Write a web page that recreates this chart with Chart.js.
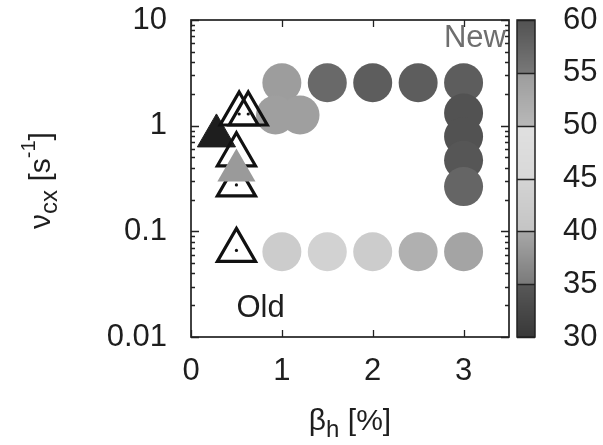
<!DOCTYPE html>
<html>
<head>
<meta charset="utf-8">
<script src="https://cdn.jsdelivr.net/npm/chart.js@4.4.0/dist/chart.umd.min.js"></script>
<style>
  html, body { margin: 0; padding: 0; background: #fff; }
  #wrap { position: relative; width: 603px; height: 445px; }
</style>
</head>
<body>
<div id="wrap"><canvas id="chart" width="603" height="445"></canvas></div>
<script>
// data: "New" discharges (circles), value on the colour bar in newZ
var newX = [1.0, 1.5, 2.0, 2.5, 3.0, 0.93, 1.2, 3.0, 3.0, 3.0, 3.0, 1.0, 1.5, 2.0, 2.5, 3.0];
var newY = [2.55, 2.55, 2.55, 2.55, 2.55, 1.26, 1.26, 1.32, 0.79, 0.47, 0.265, 0.064, 0.064, 0.064, 0.064, 0.064];
var newZ = [54.8, 57, 58.5, 58.5, 58.5, 54.5, 54.5, 60, 60, 59.5, 57.5, 42.5, 44.5, 42.5, 51.5, 53.5];

// "Old" discharges (open triangles)
var oldX = [0.53, 0.63, 0.5, 0.5, 0.5];
var oldY = [1.29, 1.29, 0.53, 0.275, 0.066];

// filled triangles
var darkTriX = [0.28];
var darkTriY = [0.80];
var greyTriX = [0.5];
var greyTriY = [0.376];

// ticks
var xTicks = [0, 1, 2, 3];
var yTicks = [0.01, 0.1, 1, 10];
var barTicks = [30, 35, 40, 45, 50, 55, 60];

// colour bar bands: [from, to, grey at from, grey at to]
var barBands = [
    [30, 35, 0x38, 0x58],
    [35, 40, 0x7a, 0xa8],
    [40, 45, 0xc4, 0xd4],
    [45, 50, 0xd8, 0xe0],
    [50, 55, 0xb8, 0x9c],
    [55, 60, 0x78, 0x52]
];

var FONT = "'Liberation Sans', Arial, Helvetica, sans-serif";

// helpers
function cmap(v) {
    for (var i = 0; i < barBands.length; i++) {
        var b = barBands[i];
        if (v >= b[0] && v <= b[1]) {
            var g = Math.round(b[2] + (b[3] - b[2]) * (v - b[0]) / (b[1] - b[0]));
            return 'rgb(' + g + ',' + g + ',' + g + ')';
        }
    }
    return '#000';
}

function points(xs, ys) {
    return xs.map(function (x, i) {
        return { x: x, y: ys[i] };
    });
}

function drawRich(ctx, parts, x, y) {
    var total = 0;
    parts.forEach(function (p) {
        ctx.font = p.size + 'px ' + FONT;
        p.w = ctx.measureText(p.t).width;
        total += p.w;
    });
    var cx = x - total / 2;
    parts.forEach(function (p) {
        ctx.font = p.size + 'px ' + FONT;
        ctx.fillText(p.t, cx, y + p.dy);
        cx += p.w;
    });
}

// label overhang must not push the plot area around
function fixSize(size) {
    return function (scale) {
        if (scale.isHorizontal()) {
            scale.height = size;
        } else {
            scale.width = size;
        }
        scale.paddingTop = 0;
        scale.paddingBottom = 0;
        scale.paddingLeft = 0;
        scale.paddingRight = 0;
    };
}

// frame, inward ticks, colour bar and labels
var decorPlugin = {
    id: 'decor',
    afterDraw: function (chart) {
        var ctx = chart.ctx, a = chart.chartArea;
        var sx = chart.scales.x, sy = chart.scales.y, cb = chart.scales.cb;

        ctx.save();
        ctx.strokeStyle = '#222';
        ctx.lineWidth = 1.3;
        ctx.beginPath();
        sx.ticks.forEach(function (t) {
            var px = Math.round(sx.getPixelForValue(t.value)) + 0.5;
            ctx.moveTo(px, a.bottom);
            ctx.lineTo(px, a.bottom - 7);
            ctx.moveTo(px, a.top);
            ctx.lineTo(px, a.top + 7);
        });
        sy.ticks.forEach(function (t) {
            var py = Math.round(sy.getPixelForValue(t.value)) + 0.5;
            var len = t.major ? 8 : 4;
            ctx.moveTo(a.left, py);
            ctx.lineTo(a.left + len, py);
            ctx.moveTo(a.right, py);
            ctx.lineTo(a.right - len, py);
        });
        ctx.stroke();

        ctx.lineWidth = 1.7;
        ctx.strokeRect(a.left, a.top, a.right - a.left, a.bottom - a.top);

        // colour bar
        var x0 = cb.left + 8, w = 18;
        var top = Math.round(cb.getPixelForValue(60)), bot = Math.round(cb.getPixelForValue(30));
        for (var py = top; py < bot; py++) {
            ctx.fillStyle = cmap(cb.getValueForPixel(py + 0.5));
            ctx.fillRect(x0, py, w, 1);
        }
        ctx.lineWidth = 1.5;
        ctx.beginPath();
        barTicks.forEach(function (v) {
            var p = Math.round(cb.getPixelForValue(v)) + 0.5;
            ctx.moveTo(x0, p);
            ctx.lineTo(x0 + w, p);
        });
        ctx.stroke();
        ctx.strokeRect(x0, top, w, bot - top);

        // annotations
        ctx.fillStyle = '#1e1e1e';
        ctx.textBaseline = 'alphabetic';
        ctx.textAlign = 'left';
        ctx.font = '31px ' + FONT;
        ctx.fillText('Old', sx.getPixelForValue(0.5), a.bottom - 20);
        ctx.fillStyle = '#6e6e6e';
        ctx.textAlign = 'right';
        ctx.fillText('New', a.right - 3, a.top + 27);

        // axis titles
        ctx.fillStyle = '#1e1e1e';
        ctx.textAlign = 'left';
        drawRich(ctx, [
            { t: '\u03b2', size: 30, dy: 0 },
            { t: 'h', size: 24, dy: 7 },
            { t: ' [%]', size: 30, dy: 0 }
        ], (a.left + a.right) / 2, 430);

        ctx.translate(50, (a.top + a.bottom) / 2 + 2);
        ctx.rotate(-Math.PI / 2);
        drawRich(ctx, [
            { t: '\u03bd', size: 30, dy: 0 },
            { t: 'cx', size: 24, dy: 7 },
            { t: ' [s', size: 30, dy: 0 },
            { t: '-1', size: 20, dy: -15 },
            { t: ']', size: 30, dy: 0 }
        ], 0, 0);
        ctx.restore();
    }
};

Chart.defaults.font.family = FONT;
Chart.defaults.font.size = 31;
Chart.defaults.color = '#1e1e1e';

var chart = new Chart(document.getElementById('chart'), {
    type: 'scatter',
    data: {
        datasets: [
            {
                data: points(newX, newY),
                pointRadius: 19.5,
                pointBorderWidth: 0,
                pointBackgroundColor: newZ.map(cmap),
                pointBorderColor: 'rgba(0,0,0,0)',
                xAxisID: 'x', yAxisID: 'y',
                order: 5
            },
            {
                data: points(darkTriX, darkTriY),
                pointStyle: 'triangle',
                pointRadius: 22,
                pointBorderWidth: 1,
                pointBackgroundColor: '#1e1e1e',
                pointBorderColor: '#1e1e1e',
                xAxisID: 'x', yAxisID: 'y',
                order: 4
            },
            {
                data: points(oldX, oldY),
                pointStyle: 'triangle',
                pointRadius: 22,
                pointBorderWidth: 3.2,
                pointBackgroundColor: 'rgba(0,0,0,0)',
                pointBorderColor: '#111',
                xAxisID: 'x', yAxisID: 'y',
                order: 3
            },
            {
                data: points(oldX, oldY),
                pointRadius: 1.6,
                pointBorderWidth: 0,
                pointBackgroundColor: '#111',
                xAxisID: 'x', yAxisID: 'y',
                order: 2
            },
            {
                data: points(greyTriX, greyTriY),
                pointStyle: 'triangle',
                pointRadius: 22,
                pointBorderWidth: 0,
                pointBackgroundColor: '#9a9a9a',
                pointBorderColor: '#9a9a9a',
                xAxisID: 'x', yAxisID: 'y',
                order: 1
            }
        ]
    },
    options: {
        responsive: false,
        animation: false,
        events: [],
        layout: { autoPadding: false, padding: { top: 20, left: 0, right: 0, bottom: 0 } },
        plugins: {
            legend: { display: false },
            tooltip: { enabled: false }
        },
        scales: {
            x: {
                type: 'linear',
                position: 'bottom',
                min: 0,
                max: 3.5,
                grid: { display: false, drawTicks: false },
                border: { display: false },
                afterBuildTicks: function (scale) {
                    scale.ticks = xTicks.map(function (v) { return { value: v }; });
                },
                ticks: {
                    autoSkip: false,
                    maxRotation: 0,
                    padding: 16,
                    callback: function (value) { return String(value); }
                },
                afterFit: fixSize(108)
            },
            y: {
                type: 'logarithmic',
                position: 'left',
                min: 0.01,
                max: 10,
                grid: { display: false, drawTicks: false },
                border: { display: false },
                afterBuildTicks: function (scale) {
                    var list = [];
                    for (var e = -2; e <= 0; e++) {
                        for (var m = 1; m <= 9; m++) {
                            list.push({ value: m * Math.pow(10, e), major: m === 1 });
                        }
                    }
                    list.push({ value: 10, major: true });
                    scale.ticks = list;
                },
                ticks: {
                    autoSkip: false,
                    padding: 24,
                    callback: function (value, index, ticks) {
                        if (!ticks[index].major) {
                            return '';
                        }
                        for (var i = 0; i < yTicks.length; i++) {
                            if (Math.abs(Math.log10(value) - Math.log10(yTicks[i])) < 1e-6) {
                                return String(yTicks[i]);
                            }
                        }
                        return '';
                    }
                },
                afterFit: fixSize(191)
            },
            cb: {
                type: 'linear',
                axis: 'y',
                position: 'right',
                min: 30,
                max: 60,
                grid: { display: false, drawTicks: false },
                border: { display: false },
                afterBuildTicks: function (scale) {
                    scale.ticks = barTicks.map(function (v) { return { value: v }; });
                },
                ticks: {
                    autoSkip: false,
                    padding: 54,
                    callback: function (value) { return String(value); }
                },
                afterFit: fixSize(94)
            }
        }
    },
    plugins: [decorPlugin]
});
</script>
</body>
</html>
